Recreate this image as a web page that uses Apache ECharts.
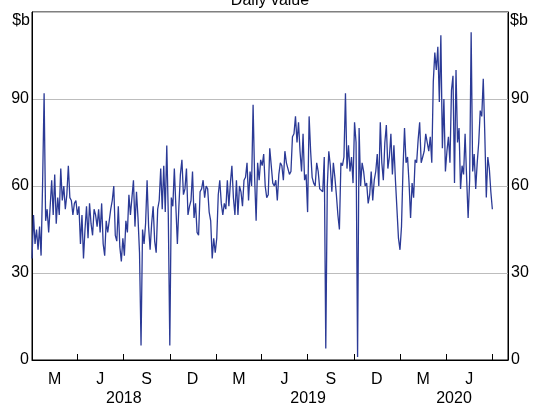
<!DOCTYPE html>
<html>
<head>
<meta charset="utf-8">
<script src="https://cdn.jsdelivr.net/npm/echarts@6/dist/echarts.min.js"></script>
<style>
  html, body { margin: 0; padding: 0; background: #fff; }
  #chart { width: 533px; height: 407px; }
</style>
</head>
<body>
<div id="chart"></div>
<script>
// daily value, $b, one reading every 3 days from 1 Jan 2018
const startDate = '2018-01-01';
const stepDays = 3;

const daily2018a = [35,50,40,45,38,46,36,61,92,48,52,44,53,62,50,64,47,56,50,66,55,60,52,57,67,56,55,50,54,55,50,53,40,50,35,45,53,42,54,47,43,52,50,46,52,44,54,40,36,48,44,48,52];
const daily2018b = [55,60,43,41,53,39,34,42,36,48,44,57,50,56,62,46,58,49,37,5,45,40,47,62,46,38,47,53,41,37,52,55,66,52,67,51,74,50,5,56,53,66,53,40,53,64,69,57,59,66,50,53];
const daily2019a = [55,65,49,54,44,43,58,59,62,56,60,59,51,48,35,42,37,42,57,62,54,50,54,52,62,53,61,67,56,50,62,50,60,58,53,62,63,68,55,65,60,88,63,48,68,62,69,67,71,60,56];
const daily2019b = [57,73,73,61,60,62,55,64,68,67,62,72,68,66,64,65,77,78,84,75,82,72,65,78,62,64,51,84,72,63,61,60,68,65,59,59,58,70,4,60,72,67,58,68,63,57,50,45,68,67,70,92];
const daily2019c = [66,74,65,70,61,82,75,1,80,60,68,65,60,61,54,57,65,55,62,65,71,60,82,68,62,75,81,66,70,78,64,74,62,52,42,38,46,66,80,68,70,61,49,61,56,69,68,76,82,68,70,72];
const daily2020 = [78,75,72,77,68,96,106,100,108,89,112,73,90,65,72,77,68,93,98,61,100,75,80,59,67,64,78,63,49,62,113,65,71,59,68,75,86,84,97,78,56,70,66,58,52];

const quarterTicks = ['2018-04-01','2018-07-01','2018-10-01','2019-01-01','2019-04-01','2019-07-01','2019-10-01','2020-01-01','2020-04-01','2020-07-01'];
const quarterMids = ['2018-02-15','2018-05-16','2018-08-16','2018-11-15','2019-02-15','2019-05-16','2019-08-16','2019-11-15','2020-02-15','2020-05-16'];
const quarterLabels = ['M','J','S','D','M','J','S','D','M','J'];
const yearMids = ['2018-07-02','2019-07-02','2020-04-16'];
const yearLabels = ['2018','2019','2020'];
const yTicks = [0, 30, 60, 90, 120];

const DAY = 86400000;
const t0 = Date.parse(startDate);
const values = [].concat(daily2018a, daily2018b, daily2019a, daily2019b, daily2019c, daily2020);
const seriesData = values.map((v, i) => [t0 + i * stepDays * DAY, v]);

const xMin = Date.parse('2018-01-01');
const xMax = Date.parse('2020-08-01');
const FONT = '"Liberation Sans", Arial, sans-serif';
const FS = 16;

function lookup(dates, labels) {
  const ts = dates.map(d => Date.parse(d));
  return function (v) {
    let best = 0;
    ts.forEach((t, i) => { if (Math.abs(t - v) < Math.abs(ts[best] - v)) best = i; });
    return labels[best];
  };
}

// plain value axis holding timestamps, so custom tick/label positions work
const baseX = {
  type: 'value',
  min: xMin,
  max: xMax,
  splitLine: { show: false },
  axisPointer: { show: false }
};

const baseY = {
  type: 'value',
  min: 0,
  max: 120,
  interval: 30,
  axisTick: { show: false },
  axisLine: { show: true, lineStyle: { color: '#000', width: 1 } },
  axisLabel: {
    margin: 3,
    color: '#000',
    fontSize: FS,
    fontFamily: FONT,
    formatter: v => (v === yTicks[yTicks.length - 1] ? '' : String(v))
  }
};

const textStyle = (text, x, y, align, valign) => ({
  type: 'text', x: x, y: y,
  style: { text: text, font: FS + 'px ' + FONT, fill: '#000', align: align, verticalAlign: valign, textAlign: align, textVerticalAlign: valign }
});

const chart = echarts.init(document.getElementById('chart'));
chart.setOption({
  animation: false,
  backgroundColor: '#fff',
  grid: {
    left: 32, right: 25, top: 12, bottom: 44,
    show: true, borderColor: '#000', borderWidth: 1
  },
  graphic: [
    textStyle('Daily value', 270, 9, 'center', 'bottom'),
    textStyle('$b', 30, 21, 'right', 'middle'),
    textStyle('$b', 510, 21, 'left', 'middle')
  ],
  xAxis: [
    Object.assign({}, baseX, {
      position: 'bottom',
      axisLine: { show: true, lineStyle: { color: '#000', width: 1 } },
      axisTick: {
        show: true, inside: true, length: 6,
        lineStyle: { color: '#000', width: 1 },
        customValues: quarterTicks.map(d => Date.parse(d))
      },
      axisLabel: {
        margin: 12, color: '#000', fontSize: FS, fontFamily: FONT,
        customValues: quarterMids.map(d => Date.parse(d)),
        formatter: lookup(quarterMids, quarterLabels)
      }
    }),
    Object.assign({}, baseX, {
      position: 'bottom',
      axisLine: { show: false },
      axisTick: { show: false },
      axisLabel: {
        margin: 31, color: '#000', fontSize: FS, fontFamily: FONT,
        customValues: yearMids.map(d => Date.parse(d)),
        formatter: lookup(yearMids, yearLabels)
      }
    })
  ],
  yAxis: [
    Object.assign({}, baseY, {
      position: 'left',
      splitLine: { show: true, lineStyle: { color: '#bdbdbd', width: 1 } }
    }),
    Object.assign({}, baseY, {
      position: 'right',
      splitLine: { show: false }
    })
  ],
  series: [{
    type: 'line',
    xAxisIndex: 0,
    yAxisIndex: 0,
    data: seriesData,
    showSymbol: false,
    symbol: 'none',
    lineStyle: { color: '#2b3a96', width: 1.3 },
    z: 3
  }]
});
</script>
</body>
</html>
